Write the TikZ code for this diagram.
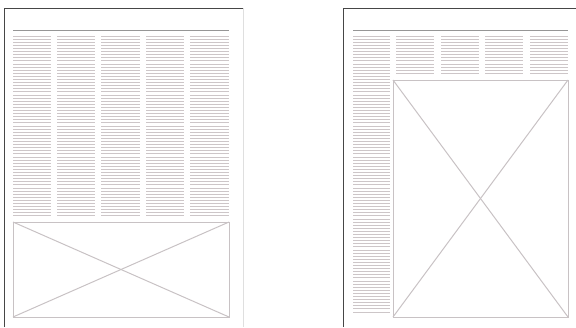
\documentclass[tikz,border=0pt]{standalone}
\usepackage{tikz}

\definecolor{edgegray}{RGB}{70,70,70}
\definecolor{rulegray}{RGB}{150,150,150}
\definecolor{textgray}{RGB}{205,198,200}
\definecolor{boxgray}{RGB}{200,194,196}

\tikzset{
  pageedge/.style={edgegray, line width=1pt},
  pageside/.style={gray!25, line width=0.6pt},
  headrule/.style={rulegray, line width=0.9pt},
  textline/.style={textgray, line width=0.7pt},
  picbox/.style={boxgray, line width=1pt}
}

\begin{document}
\begin{tikzpicture}[x=1pt,y=-1pt]
  \useasboundingbox (0,0) rectangle (576,327);
  % left page: five columns and a picture across the foot
  \draw[pageside] (243,8) -- (243,327);
  \draw[pageedge] (4,327) -- (4,8) -- (243,8);
  \draw[headrule] (13,30.5) -- (229,30.5);
  \foreach \xa/\xb in {13/51, 57/95, 101/140, 146/184, 190/229}
    \foreach \y in {36,39.1,...,217}
      \draw[textline] (\xa,\y) -- (\xb,\y);
  \coordinate (lbl) at (13,317);
  \coordinate (ltr) at (229,222);
  \draw[picbox] (lbl) rectangle (ltr);
  \draw[picbox] (lbl) -- (ltr);
  \draw[picbox] (13,222) -- (229,317);
  % right page: one long column beside a tall picture
  \draw[pageedge] (343,327) -- (343,8) -- (576,8);
  \draw[headrule] (353,30.5) -- (568,30.5);
  \foreach \y in {36,39.1,...,314}
    \draw[textline] (353,\y) -- (390,\y);
  \foreach \xa/\xb in {396/434, 441/479, 485/523, 530/568}
    \foreach \y in {36,39.1,...,76}
      \draw[textline] (\xa,\y) -- (\xb,\y);
  \coordinate (rbl) at (393,317);
  \coordinate (rtr) at (568,80);
  \draw[picbox] (rbl) rectangle (rtr);
  \draw[picbox] (rbl) -- (rtr);
  \draw[picbox] (393,80) -- (568,317);
\end{tikzpicture}
\end{document}
